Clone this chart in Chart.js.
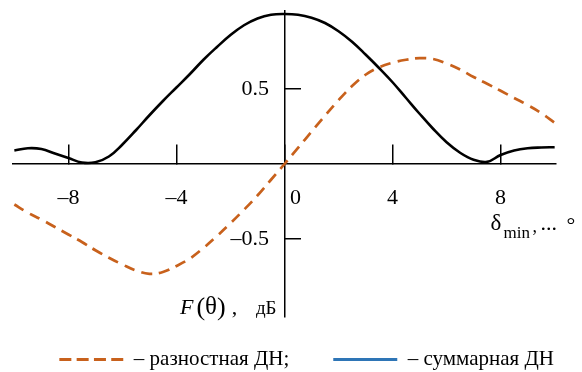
<!DOCTYPE html>
<html>
<head>
<meta charset="utf-8">
<script src="https://cdn.jsdelivr.net/npm/chart.js@4/dist/chart.umd.min.js"></script>
<style>
html, body { margin: 0; padding: 0; background: #fff; }
canvas { display: block; }
</style>
</head>
<body>
<canvas id="chart" width="582" height="372"></canvas>
<script>
// ---- data ----
const angles = [-10, -9.5, -9, -8.5, -8, -7.5, -7, -6.5, -6, -5.5, -5, -4.5, -4, -3.5, -3, -2.5, -2, -1.5, -1, -0.5,
                0, 0.5, 1, 1.5, 2, 2.5, 3, 3.5, 4, 4.5, 5, 5.5, 6, 6.5, 7, 7.5, 8, 8.5, 9, 9.5, 10];
const sumPattern = [0.09, 0.105, 0.1, 0.07, 0.04, 0.01, 0.012, 0.05, 0.13, 0.225, 0.325, 0.42, 0.51, 0.6, 0.695, 0.78, 0.86, 0.925, 0.97, 0.995,
                    1.0, 0.995, 0.975, 0.94, 0.885, 0.815, 0.73, 0.64, 0.545, 0.44, 0.335, 0.235, 0.145, 0.075, 0.028, 0.014, 0.06, 0.09, 0.105, 0.11, 0.112];
const diffPattern = [-0.27, -0.325, -0.37, -0.42, -0.47, -0.52, -0.575, -0.625, -0.67, -0.71, -0.732, -0.72, -0.68, -0.63, -0.56, -0.48, -0.395, -0.305, -0.21, -0.105,
                     0, 0.108, 0.215, 0.322, 0.425, 0.52, 0.595, 0.645, 0.675, 0.695, 0.706, 0.70, 0.67, 0.63, 0.58, 0.535, 0.488, 0.44, 0.393, 0.34, 0.275];
const xTickValues = [-8, -4, 0, 4, 8];
const xTickLabels = ['–8', '–4', '0', '4', '8'];
const yTickValues = [-0.5, 0.5];
const yTickLabels = ['–0.5', '0.5'];
const legendLabels = ['– разностная ДН;', '– суммарная ДН'];
const yTitle = ['F', '(', 'θ', ')', ',', 'дБ'];
const xTitle = ['δ', 'min', ',', '...', '°'];

// ---- styles ----
const SERIF = '"Liberation Serif", "Times New Roman", serif';
const diffColor = '#C8611C';
const sumColor = '#000000';
const legendSumColor = '#2E75B6';
Chart.defaults.font.family = SERIF;
Chart.defaults.color = '#000';

const toPoints = (ys) => angles.map((a, i) => ({ x: a, y: ys[i] }));

const axisTitles = {
  id: 'axisTitles',
  afterDraw(chart) {
    const { ctx, scales: { x, y } } = chart;
    const x0 = x.getPixelForValue(0);
    const y0 = y.getPixelForValue(0);
    ctx.save();
    ctx.fillStyle = '#000';
    ctx.textBaseline = 'alphabetic';
    ctx.textAlign = 'left';
    // y-axis title  F(θ), дБ
    const fonts = ['italic 22px ' + SERIF, '26px ' + SERIF, '25px ' + SERIF, '26px ' + SERIF, '22px ' + SERIF];
    const gapsAfter = [3, 0, 0, 6, 0];
    const base = y0 + 150;
    let cx = x0 - 104.5;
    for (let i = 0; i < 5; i++) {
      ctx.font = fonts[i];
      ctx.fillText(yTitle[i], cx, base + (i === 1 || i === 3 ? 1 : 0));
      cx += ctx.measureText(yTitle[i]).width + gapsAfter[i];
    }
    ctx.font = '19px ' + SERIF;
    ctx.textAlign = 'right';
    ctx.fillText(yTitle[5], x0 - 8, base);
    ctx.textAlign = 'left';
    // x-axis title  δmin, ...°
    const xs = x.getPixelForValue(8) - 10;
    const xb = y0 + 66;
    ctx.font = '23px ' + SERIF; ctx.fillText(xTitle[0], xs, xb);
    ctx.font = '17px ' + SERIF; ctx.fillText(xTitle[1], xs + 13, xb + 8);
    ctx.font = '18px ' + SERIF; ctx.fillText(xTitle[2], xs + 42, xb + 2);
    ctx.font = '22px ' + SERIF; ctx.fillText(xTitle[3], xs + 50, xb);
    ctx.font = '22px ' + SERIF; ctx.fillText(xTitle[4], xs + 76, xb + 2);
    ctx.restore();
  }
};

new Chart(document.getElementById('chart'), {
  type: 'line',
  data: {
    datasets: [
      {
        label: legendLabels[1],
        data: toPoints(sumPattern),
        borderColor: sumColor,
        borderWidth: 2.6,
        pointRadius: 0,
        tension: 0.4,
        fill: false,
        clip: false
      },
      {
        label: legendLabels[0],
        data: toPoints(diffPattern),
        borderColor: diffColor,
        borderWidth: 2.7,
        borderDash: [11, 7],
        pointRadius: 0,
        tension: 0.4,
        fill: false,
        clip: false
      }
    ]
  },
  options: {
    responsive: false,
    animation: false,
    devicePixelRatio: 1,
    layout: { padding: { left: 13, right: 26, top: 11, bottom: -8 } },
    plugins: {
      tooltip: { enabled: false },
      legend: {
        position: 'bottom',
        align: 'end',
        title: { display: true, text: ' ', font: { size: 10 }, padding: { top: 0, bottom: 18 } },
        labels: {
          font: { size: 21, family: SERIF },
          color: '#000',
          usePointStyle: true,
          pointStyleWidth: 64,
          padding: 2,
          generateLabels: () => [
            { text: legendLabels[0] + '        ', strokeStyle: diffColor, fillStyle: 'rgba(0,0,0,0)', lineWidth: 3, lineDash: [12, 5.3], pointStyle: 'line', fontColor: '#000' },
            { text: legendLabels[1], strokeStyle: legendSumColor, fillStyle: 'rgba(0,0,0,0)', lineWidth: 3, lineDash: [], pointStyle: 'line', fontColor: '#000' }
          ]
        }
      }
    },
    scales: {
      x: {
        type: 'linear',
        position: { y: 0 },
        min: -10.05,
        max: 10.05,
        afterBuildTicks: (s) => { s.ticks = xTickValues.map(v => ({ value: v })); },
        afterFit: (s) => { s.height = 0; s.paddingLeft = 0; s.paddingRight = 0; },
        grid: { drawOnChartArea: false, drawTicks: true, tickLength: -20, color: '#000', lineWidth: 1.5 },
        border: { display: true, color: '#000', width: 1.5 },
        ticks: {
          autoSkip: false,
          maxRotation: 0,
          padding: 41,
          font: { size: 22, family: SERIF },
          color: '#000',
          callback: (v, i) => (xTickValues[i] === 0 ? '\u2002\u2002' : '') + xTickLabels[i]
        }
      },
      y: {
        type: 'linear',
        position: { x: 0 },
        min: -1.02,
        max: 1.02,
        afterBuildTicks: (s) => { s.ticks = yTickValues.map(v => ({ value: v })); },
        afterFit: (s) => { s.width = 0; s.paddingTop = 0; s.paddingBottom = 0; },
        grid: { drawOnChartArea: false, drawTicks: true, tickLength: -17, color: '#000', lineWidth: 1.5 },
        border: { display: true, color: '#000', width: 1.5 },
        ticks: {
          autoSkip: false,
          font: { size: 22, family: SERIF },
          color: '#000',
          callback: (v, i) => yTickLabels[i] + '\u2002\u2009'
        }
      }
    }
  },
  plugins: [axisTitles]
});
</script>
</body>
</html>
